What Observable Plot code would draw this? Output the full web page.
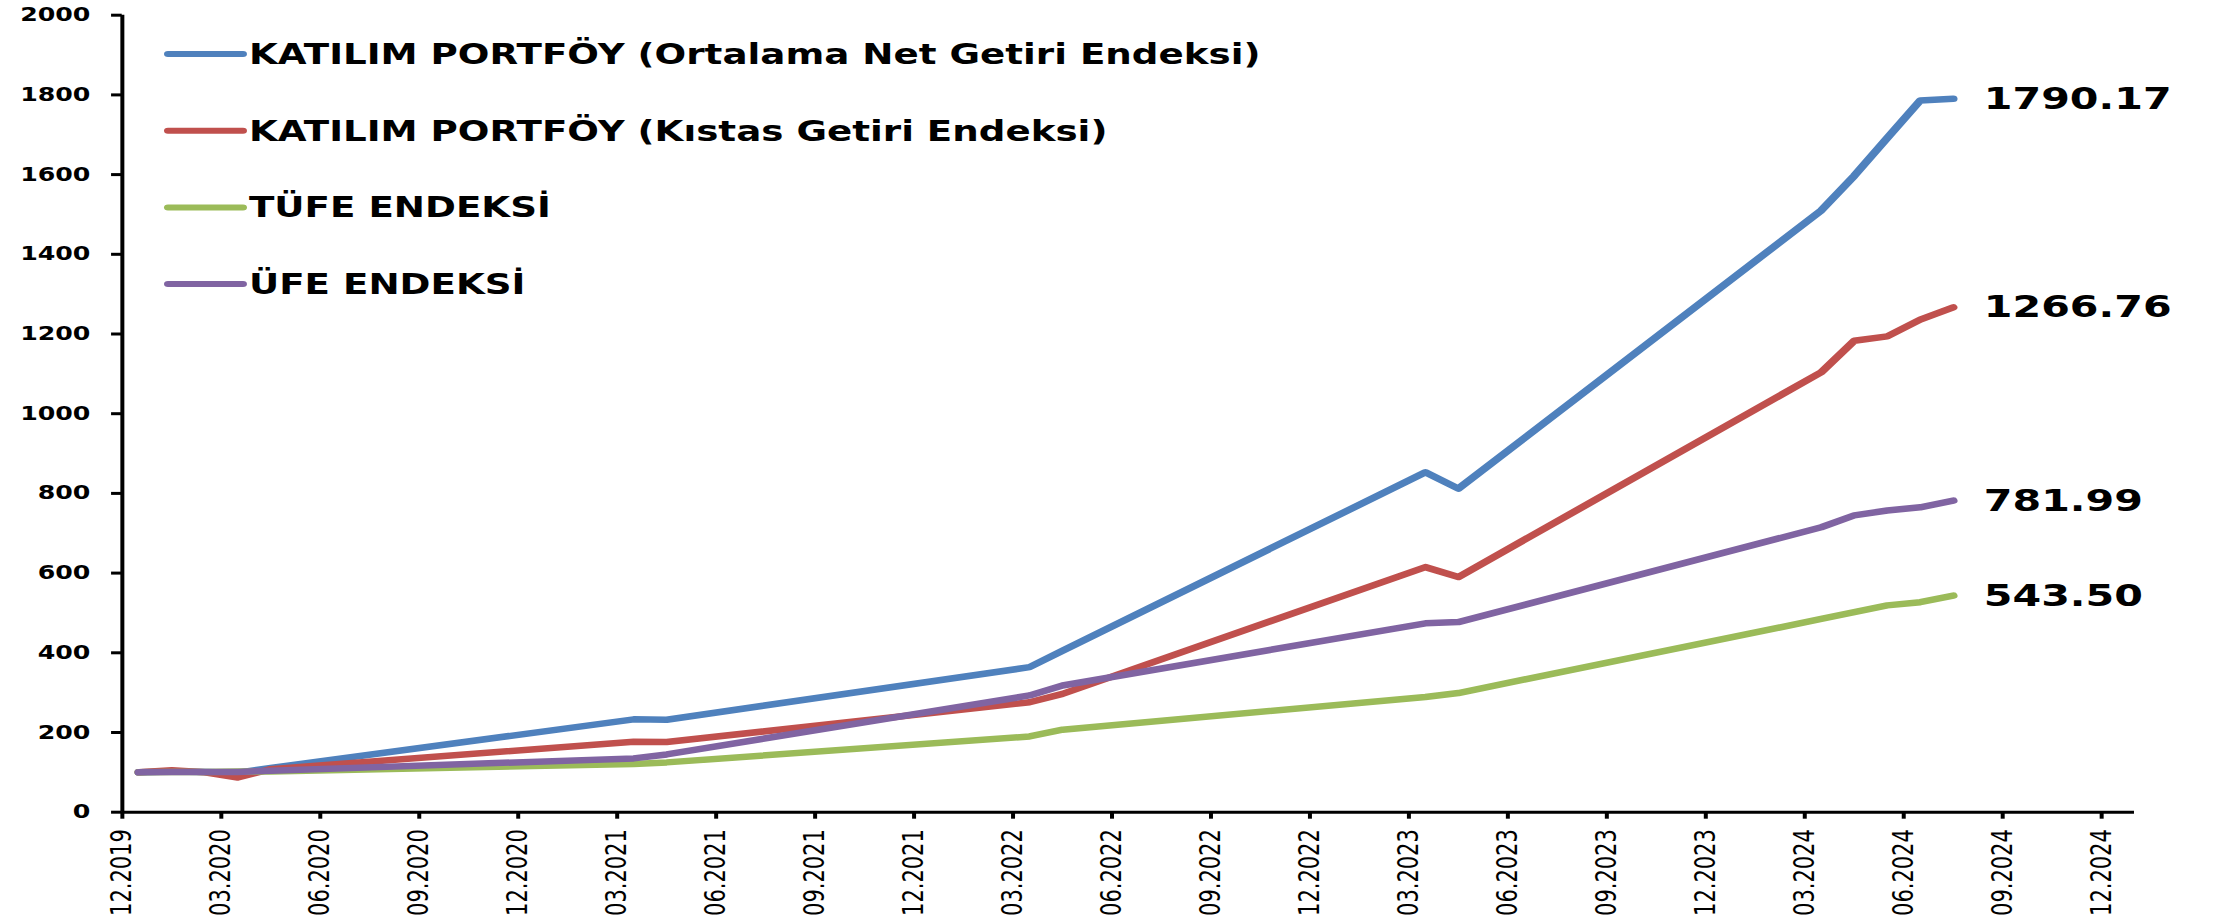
<!DOCTYPE html>
<html><head><meta charset="utf-8">
<script src="https://cdn.jsdelivr.net/npm/d3@7"></script>
<script src="https://cdn.jsdelivr.net/npm/@observablehq/plot@0.6"></script>
<style>
html,body{margin:0;padding:0;background:#fff;}
#chart{width:2218px;height:920px;overflow:hidden;}
</style></head><body><div id="chart"></div>
<script>
// ---- data ----
const dates = ["12.2019","01.2020","02.2020","03.2020","04.2020","03.2021","04.2021","03.2022","04.2022","03.2023","04.2023","03.2024","04.2024","05.2024","06.2024","07.2024"];
const seriesNames = ["KATILIM PORTFÖY (Ortalama Net Getiri Endeksi)","KATILIM PORTFÖY (Kıstas Getiri Endeksi)","TÜFE ENDEKSİ","ÜFE ENDEKSİ"];
const ortalamaNet = [100, 102, 101, 99, 111, 233, 232, 364, 405, 853, 812, 1510, 1597, 1692, 1786, 1790.17];
const kistas      = [100, 105, 100, 87, 108, 177, 176, 276, 297, 615, 590, 1104, 1183, 1194, 1236, 1266.76];
const tufe        = [100, 101, 101, 102, 102, 121, 125, 190, 207, 289, 299, 485, 502, 519, 527, 543.50];
const ufe         = [100, 101, 101, 101, 104, 135, 145, 293, 318, 474, 477, 715, 745, 757, 765, 781.99];
const xTickLabels = ["12.2019","03.2020","06.2020","09.2020","12.2020","03.2021","06.2021","09.2021","12.2021","03.2022","06.2022","09.2022","12.2022","03.2023","06.2023","09.2023","12.2023","03.2024","06.2024","09.2024","12.2024"];
const yTicks = [0,200,400,600,800,1000,1200,1400,1600,1800,2000];
const colors = ["#4F81BD","#C0504D","#9BBB59","#8064A2"];

// ---- layout ----
const K = 1.33;            // horizontal stretch of the reference
const W = 2218 / K, H = 920;
function monthIndex(s){ const [m,y] = s.split(".").map(Number); return (y-2019)*12 + (m-12); }
const allSeries = [ortalamaNet, kistas, tufe, ufe];
const rows = [];
seriesNames.forEach((name, si) => dates.forEach((d, i) => rows.push({series: name, x: monthIndex(d) + 0.5, y: allSeries[si][i]})));
const lastIdx = dates.length - 1;
const lastRows = seriesNames.map((name, si) => ({series: name, x: monthIndex(dates[lastIdx]) + 0.5, y: allSeries[si][lastIdx]}));
const xTickPos = xTickLabels.map(monthIndex);

const plot = Plot.plot({
  width: W, height: H,
  marginTop: 14.7, marginBottom: 108.3, marginLeft: 91.5, marginRight: W - 1604.5,
  style: {fontFamily: "DejaVu Sans", color: "#000", background: "#fff", overflow: "visible"},
  x: {type: "linear", domain: [0, 61], axis: null},
  y: {domain: [0, 2000], axis: null},
  color: {domain: seriesNames, range: colors},
  marks: [
    Plot.axisX({ticks: xTickPos, tickFormat: i => xTickLabels[xTickPos.indexOf(i)], tickRotate: -90, tickSize: 7, tickPadding: 10, fontSize: 21, stroke: "#000", strokeWidth: 3, label: null}),
    Plot.axisY({ticks: yTicks, tickFormat: d => String(d), tickSize: 8, tickPadding: 16, fontSize: 19, fontWeight: "bold", stroke: "#000", strokeWidth: 3, label: null}),
    Plot.ruleX([0], {stroke: "#000", strokeWidth: 3}),
    Plot.ruleY([0], {stroke: "#000", strokeWidth: 3}),
    Plot.line(rows, {x: "x", y: "y", z: "series", stroke: "series", strokeWidth: 6.5, strokeLinecap: "round", strokeLinejoin: "round"}),
    Plot.text(lastRows, {x: "x", y: "y", text: d => d3.format(".2f")(d.y), dx: 23, textAnchor: "start", fontSize: 31, fontWeight: "bold", fill: "#000"})
  ]
});

// legend inside the plot (top-left)
const svg = d3.select(plot);
const lg = svg.append("g").attr("font-family", "DejaVu Sans").attr("font-weight", "bold").attr("font-size", 28).attr("text-anchor", "start");
seriesNames.forEach((name, i) => {
  const y = 54 + i * 76.7;
  lg.append("line").attr("x1", 126.3).attr("x2", 182.7).attr("y1", y).attr("y2", y)
    .attr("stroke", colors[i]).attr("stroke-width", 6).attr("stroke-linecap", "round");
  lg.append("text").attr("x", 187.2).attr("y", y).attr("dy", "0.36em").attr("fill", "#000").attr("text-anchor", "start").text(name);
});

// stretch horizontally like the reference
plot.setAttribute("width", 2218);
plot.setAttribute("height", 920);
plot.setAttribute("viewBox", `0 0 ${W} ${H}`);
plot.setAttribute("preserveAspectRatio", "none");
plot.style.width = "2218px";
plot.style.height = "920px";
plot.style.maxWidth = "none";
document.getElementById("chart").appendChild(plot);
</script></body></html>
